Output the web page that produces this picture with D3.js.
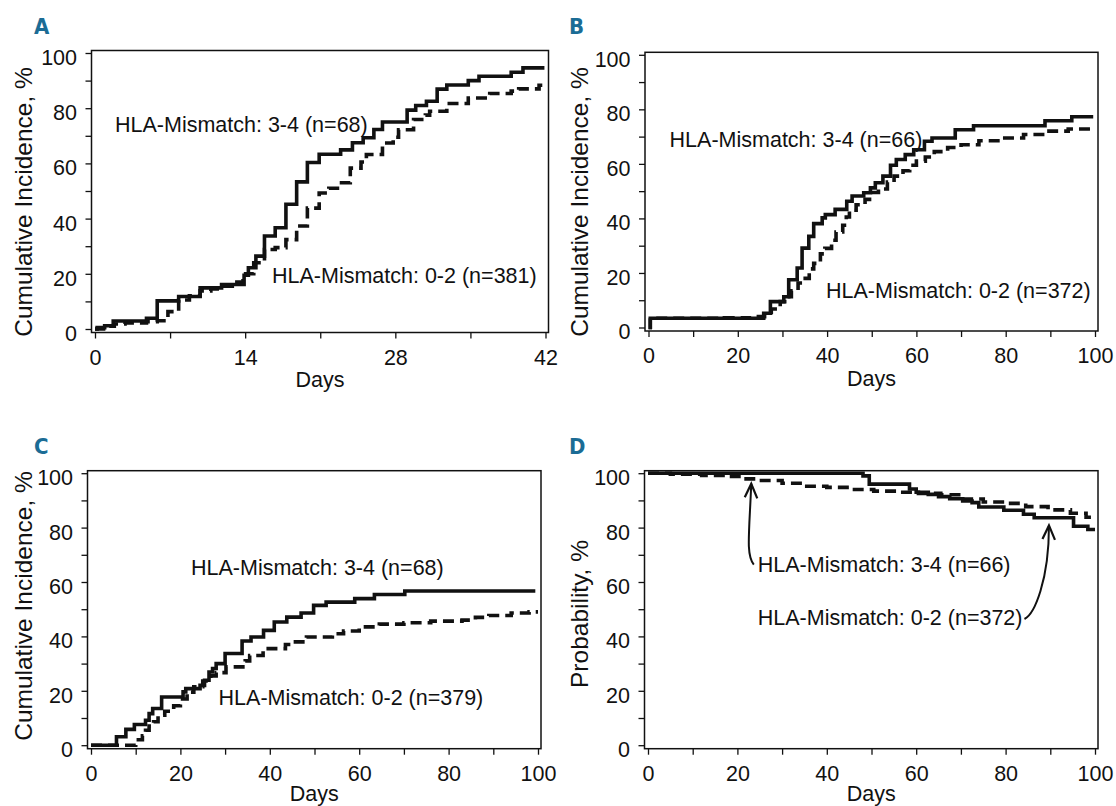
<!DOCTYPE html>
<html>
<head>
<meta charset="utf-8">
<script src="https://cdn.jsdelivr.net/npm/d3@7"></script>
<style>
  body { margin: 0; background: #fff; }
  svg { display: block; }
  text { font-family: "Liberation Sans", Arial, sans-serif; fill: #111; }
  .letter { font-family: "DejaVu Sans Condensed", "DejaVu Sans", sans-serif; font-stretch: condensed; font-weight: bold; fill: #1b6c95; }
</style>
</head>
<body>
<svg id="fig" width="1116" height="806"></svg>
<script>
'use strict';

// step curves as [day, percent]
var aMismatch34 = [[0,0],[0.2,0.5],[0.9,1.2],[1.7,2.9],[4.8,3.9],[5.8,10.2],[7.8,11.8],[9.8,14.9],[11.8,16.1],
  [13.9,19.5],[14.3,22.2],[15.0,26.4],[15.8,33.7],[16.8,36.7],[17.8,45.2],[18.8,53.3],[19.8,60.3],[20.9,63.3],
  [22.9,64.9],[24.0,67.5],[25.0,69.3],[26.0,72.3],[26.8,75.0],[29.1,79.3],[29.9,81.0],[30.9,82.5],[31.9,86.9],
  [32.8,88.4],[34.8,90.0],[35.8,91.6],[38.8,93.0],[39.9,94.6],[41.9,94.6]];
var aMismatch02 = [[0,0],[0.8,1.0],[1.8,1.8],[2.8,2.2],[4.8,2.6],[5.8,3.0],[6.8,6.3],[7.8,10.5],[8.8,12.0],
  [9.8,13.8],[10.8,14.5],[11.8,15.5],[12.8,17.0],[13.8,20.0],[14.8,24.0],[15.8,28.8],[16.8,29.5],[17.8,32.4],
  [18.8,37.3],[19.8,43.8],[20.9,49.3],[21.8,51.0],[22.8,53.0],[23.8,58.3],[24.8,60.5],[25.3,63.2],[26.8,67.4],
  [27.8,69.5],[28.3,72.2],[29.7,75.9],[30.8,77.5],[31.2,78.9],[32.8,81.7],[34.8,83.7],[36.8,85.3],[38.8,86.2],
  [39.5,87.0],[41.4,88.3],[42,88.3]];

var bMismatch34 = [[0,0],[0.4,3.4],[25.8,5.2],[27.3,9.5],[30.3,11.3],[31.4,17.5],[33.3,21.8],[34.4,29.1],
  [35.9,33.4],[37.0,38.1],[38.9,40.2],[39.6,41.4],[41.8,43.3],[44.4,46.3],[45.6,48.2],[48.2,49.4],[49.7,51.2],
  [50.8,53.1],[52.5,55.5],[54.2,59.5],[55.5,61.6],[57.5,63.4],[59.4,65.2],[61.8,68.3],[63.5,69.5],[68.7,72.5],
  [72.8,74.0],[88.8,75.8],[94.8,77.3],[99.6,77.3]];
var bMismatch02 = [[0,0],[0.4,3.4],[17,3.6],[23,4.0],[26,5.5],[27.5,6.8],[29.5,9.5],[30.5,11.3],[32,13.5],
  [33.5,16.3],[34.5,18.0],[36,21.5],[37,23.5],[38.5,27.0],[39.5,29.0],[41,32.0],[42,35.0],[43.5,37.5],[44.3,40.5],
  [45,43.0],[46.5,45.0],[48.5,47.0],[50,49.5],[51.5,50.8],[53.5,53.3],[55,55.5],[57,57.5],[58.5,59.5],[60,61.0],
  [62,62.5],[64,64.5],[67,66.0],[70,67.0],[74,68.5],[79,69.5],[84,70.8],[89,72.0],[94,72.8],[99.6,72.8]];

var cMismatch34 = [[0,0],[5.7,3.1],[7.8,5.8],[9.7,7.6],[12.2,9.2],[13.0,11.6],[13.8,13.5],[15.8,17.7],[20.6,19.6],
  [21.2,20.8],[24.4,22.0],[25.4,23.9],[26.4,26.9],[27.2,28.2],[28.0,30.0],[30.0,33.7],[33.8,38.3],[35.8,39.8],
  [38.6,42.2],[41.0,45.3],[43.8,47.1],[47.0,48.6],[49.8,51.4],[52.6,52.6],[59.0,53.9],[63.4,55.4],[70.2,56.7],
  [99.4,56.7]];
var cMismatch02 = [[0,0],[10,2.0],[11.5,3.5],[12.2,5.5],[13,7.0],[14,8.6],[15,11.0],[16.5,12.5],[18.5,14.5],
  [20,17.0],[21.5,19.5],[23,21.5],[25,23.6],[26.8,25.5],[28,26.7],[30.2,28.8],[34.5,31.0],[35.5,33.0],[38.5,35.5],
  [43.5,37.0],[45,38.0],[48.2,39.8],[54,41.0],[56.5,42.0],[60,43.5],[64.5,44.5],[70,45.0],[76,45.6],[83,46.0],
  [86,47.0],[89,47.7],[94,48.6],[98,49.0],[100,49.0]];

var dMismatch34 = [[0,100],[48.1,99.0],[49.5,96.0],[58.5,94.2],[60.0,93.0],[62.7,92.2],[65.0,91.4],[67.5,90.6],
  [70.4,89.8],[72.5,89.2],[74.0,87.6],[79.6,86.4],[84.0,84.9],[86.4,83.6],[95.2,80.5],[98.4,79.3],[100,79.3]];
var dMismatch02 = [[0,100],[5,99.6],[12,99.2],[17.5,98.8],[21,97.9],[24.5,97.3],[30,96.3],[35,95.2],[40,94.8],
  [45.5,94.0],[50.5,93.4],[55.5,93.0],[60.5,92.6],[65.5,92.1],[70,90.5],[75,89.4],[80,88.9],[84.5,87.7],
  [89.5,86.5],[94.5,85.3],[98,83.8],[100,83.8]];

// ticks
var yTicks = [0,10,20,30,40,50,60,70,80,90,100];
var yLabels = [0,20,40,60,80,100];
var xTicks42 = [0,7,14,21,28,35,42];
var xLabels42 = [0,14,28,42];
var xTicks100 = [0,10,20,30,40,50,60,70,80,90,100];
var xLabels100 = [0,20,40,60,80,100];

// arrow tips in panel D, [day, percent]
var dArrowTips = [[23.1,96.1],[89.7,80.8]];

var svg = d3.select('#fig');

var panels = [
  { letter: 'A', lx: 34, ly: 33.5, left: 91.5, top: 50.5, right: 548.5, bottom: 332.5, xMax: 42,
    xTicks: xTicks42, xLabels: xLabels42, yTitle: 'Cumulative Incidence, %', tx: 31.5, ty: 202,
    solid: aMismatch34, dashed: aMismatch02,
    labels: [['HLA-Mismatch: 3-4 (n=68)', 115, 131.7], ['HLA-Mismatch: 0-2 (n=381)', 272, 283.3]] },
  { letter: 'B', lx: 569, ly: 33.5, left: 645, top: 52.3, right: 1098, bottom: 331, xMax: 100,
    xTicks: xTicks100, xLabels: xLabels100, yTitle: 'Cumulative Incidence, %', tx: 588, ty: 202,
    solid: bMismatch34, dashed: bMismatch02,
    labels: [['HLA-Mismatch: 3-4 (n=66)', 669.6, 146.7], ['HLA-Mismatch: 0-2 (n=372)', 826, 298.3]] },
  { letter: 'C', lx: 34, ly: 453.5, left: 87.5, top: 470.7, right: 541, bottom: 748.7, xMax: 100,
    xTicks: xTicks100, xLabels: xLabels100, yTitle: 'Cumulative Incidence, %', tx: 31.5, ty: 606,
    solid: cMismatch34, dashed: cMismatch02,
    labels: [['HLA-Mismatch: 3-4 (n=68)', 191, 575], ['HLA-Mismatch: 0-2 (n=379)', 218.6, 705]] },
  { letter: 'D', lx: 569, ly: 453.5, left: 644.5, top: 470.7, right: 1098, bottom: 748.7, xMax: 100,
    xTicks: xTicks100, xLabels: xLabels100, yTitle: 'Probability, %', tx: 588, ty: 614,
    solid: dMismatch34, dashed: dMismatch02, arrows: dArrowTips,
    labels: [['HLA-Mismatch: 3-4 (n=66)', 757.8, 571.7], ['HLA-Mismatch: 0-2 (n=372)', 757.8, 625]] }
];

panels.forEach(function (p) {
  var g = svg.append('g');
  var x = d3.scaleLinear().domain([0, p.xMax]).range([p.left + 3.5, p.right - 3]);
  var y = d3.scaleLinear().domain([0, 100]).range([p.bottom - 3.5, p.top + 2.5]);

  g.append('text').attr('class', 'letter').attr('x', p.lx).attr('y', p.ly)
    .style('font-size', '22px').text(p.letter);

  var yAxis = d3.axisLeft(y).tickValues(yTicks).tickSize(6).tickSizeOuter(0)
    .tickFormat(function (d) { return yLabels.indexOf(d) >= 0 ? d : ''; });
  var ya = g.append('g').attr('transform', 'translate(' + p.left + ',0)').call(yAxis);
  ya.select('.domain').remove();
  ya.selectAll('line').attr('stroke', '#111').attr('stroke-width', 1.3);
  ya.selectAll('text').attr('x', -14.5).attr('dy', '0.53em')
    .style('font-size', '21.5px').style('font-family', '"Liberation Sans", Arial, sans-serif').attr('fill', '#111');

  var xAxis = d3.axisBottom(x).tickValues(p.xTicks).tickSize(6).tickSizeOuter(0)
    .tickFormat(function (d) { return p.xLabels.indexOf(d) >= 0 ? d : ''; });
  var xa = g.append('g').attr('transform', 'translate(0,' + p.bottom + ')').call(xAxis);
  xa.select('.domain').remove();
  xa.selectAll('line').attr('stroke', '#111').attr('stroke-width', 1.3);
  xa.selectAll('text').attr('y', 17).attr('dy', '0.71em')
    .style('font-size', '21.5px').style('font-family', '"Liberation Sans", Arial, sans-serif').attr('fill', '#111');

  g.append('rect').attr('x', p.left).attr('y', p.top)
    .attr('width', p.right - p.left).attr('height', p.bottom - p.top)
    .attr('fill', 'none').attr('stroke', '#111').attr('stroke-width', 1.5);

  var line = d3.line()
    .x(function (d) { return x(d[0]); })
    .y(function (d) { return y(d[1]); })
    .curve(d3.curveStepAfter);

  g.append('path').attr('d', line(p.dashed)).attr('fill', 'none')
    .attr('stroke', '#111').attr('stroke-width', 3.6).attr('stroke-dasharray', '11,6');
  g.append('path').attr('d', line(p.solid)).attr('fill', 'none')
    .attr('stroke', '#111').attr('stroke-width', 3.6);

  g.append('text')
    .attr('transform', 'translate(' + p.tx + ',' + p.ty + ') rotate(-90)')
    .attr('text-anchor', 'middle').style('font-size', '24.5px').text(p.yTitle);

  // bottom row titles sit at the page edge, as in the original
  g.append('text').attr('x', (p.left + p.right) / 2).attr('y', Math.min(p.bottom + 54.5, 801))
    .attr('text-anchor', 'middle').style('font-size', '21.5px').text('Days');

  var labs = p.labels.map(function (l) {
    return g.append('text').attr('x', l[1]).attr('y', l[2]).style('font-size', '21.5px').text(l[0]);
  });

  if (p.arrows) {
    // arrow from first label start, and from second label end
    var t1 = [x(p.arrows[0][0]), y(p.arrows[0][1])];
    var s1 = [p.labels[0][1] - 4, p.labels[0][2] - 7];
    var t2 = [x(p.arrows[1][0]), y(p.arrows[1][1])];
    var s2 = [p.labels[1][1] + labs[1].node().getComputedTextLength() + 2, p.labels[1][2] - 6];
    var arrowPaths = [
      'M' + s1 + 'C' + [s1[0] - 8, s1[1] - 10] + ' ' + [t1[0] - 2, t1[1] + 50] + ' ' + t1,
      'M' + s2 + 'C' + [s2[0] + 10, s2[1] - 5] + ' ' + [t2[0], t2[1] + 55] + ' ' + t2
    ];
    g.selectAll('path.arrow').data(arrowPaths).enter().append('path').attr('class', 'arrow')
      .attr('d', function (d) { return d; })
      .attr('fill', 'none').attr('stroke', '#111').attr('stroke-width', 2);
    g.selectAll('path.head').data([t1, t2]).enter().append('path').attr('class', 'head')
      .attr('d', function (t) { return 'M' + [t[0] - 6.5, t[1] + 13.5] + 'L' + t + 'L' + [t[0] + 6, t[1] + 14.5]; })
      .attr('fill', 'none').attr('stroke', '#111').attr('stroke-width', 2.2);
  }
});
</script>
</body>
</html>
